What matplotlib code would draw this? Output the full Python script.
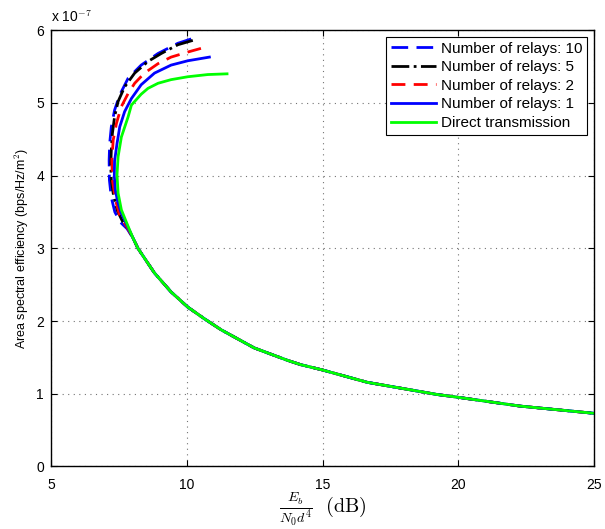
import numpy as np
import matplotlib.pyplot as plt

plt.rcParams['font.family'] = ['Liberation Sans', 'DejaVu Sans']
plt.rcParams['mathtext.fontset'] = 'cm'

# y values are in units of 1e-7 bps/Hz/m^2
# lower branch shared by all curves once they merge
tail_x = [8.02, 8.20, 8.81, 9.42, 10.04, 10.65, 11.26, 12.48, 13.70, 14.19, 15.0, 16.64, 19.2, 20.0, 22.26, 25.0]
tail_y = [3.14, 3.00, 2.66, 2.40, 2.19, 2.03, 1.88, 1.63, 1.46, 1.40, 1.326, 1.157, 0.99, 0.95, 0.83, 0.73]

# number of relays: 10
r10_x = [10.16, 9.67, 8.94, 8.32, 7.84, 7.53, 7.34, 7.22, 7.16, 7.14, 7.15, 7.22, 7.35, 7.55, 7.80]
r10_y = [5.88, 5.82, 5.68, 5.52, 5.34, 5.11, 4.90, 4.67, 4.44, 4.21, 3.94, 3.70, 3.50, 3.36, 3.27]
# number of relays: 5
r5_x = [10.22, 9.67, 9.06, 8.57, 8.08, 7.71, 7.47, 7.34, 7.26, 7.22, 7.20, 7.22, 7.30, 7.44, 7.62, 7.82]
r5_y = [5.86, 5.80, 5.68, 5.57, 5.41, 5.22, 5.02, 4.81, 4.58, 4.35, 4.15, 3.94, 3.73, 3.52, 3.38, 3.28]
# number of relays: 2
r2_x = [10.52, 10.04, 9.42, 8.94, 8.44, 8.08, 7.84, 7.59, 7.41, 7.29, 7.24, 7.26, 7.37, 7.52, 7.80]
r2_y = [5.75, 5.70, 5.63, 5.54, 5.41, 5.27, 5.13, 4.95, 4.72, 4.49, 4.21, 3.94, 3.67, 3.46, 3.29]
# number of relays: 1
r1_x = [10.83, 10.04, 9.42, 8.81, 8.32, 7.96, 7.71, 7.53, 7.43, 7.34, 7.33, 7.37, 7.45, 7.57, 7.82]
r1_y = [5.63, 5.58, 5.52, 5.41, 5.25, 5.06, 4.88, 4.67, 4.44, 4.20, 4.00, 3.80, 3.65, 3.50, 3.30]
# direct transmission
dt_x = [11.48, 10.77, 10.04, 9.42, 8.94, 8.57, 8.32, 7.96, 7.84, 7.59, 7.47, 7.43, 7.47, 7.59, 7.84]
dt_y = [5.40, 5.39, 5.36, 5.32, 5.27, 5.20, 5.12, 4.97, 4.81, 4.53, 4.26, 4.01, 3.76, 3.53, 3.30]

labels = ['Number of relays: 10', 'Number of relays: 5', 'Number of relays: 2',
          'Number of relays: 1', 'Direct transmission']

fig = plt.figure(figsize=(6.05, 5.29), dpi=100)
ax = fig.add_axes([0.0843, 0.1183, 0.8980, 0.8246])

lw = 2
ax.plot(r10_x + tail_x, r10_y + tail_y, color='#0000ff', lw=lw, dashes=(6, 3), label=labels[0])
ax.plot(r5_x + tail_x, r5_y + tail_y, color='k', lw=lw, linestyle='-.', label=labels[1])
ax.plot(r2_x + tail_x, r2_y + tail_y, color='#ff0000', lw=lw, dashes=(5, 3), label=labels[2])
ax.plot(r1_x + tail_x, r1_y + tail_y, color='#0000ff', lw=lw, label=labels[3])
ax.plot(dt_x + tail_x, dt_y + tail_y, color='#00ff00', lw=lw, label=labels[4])

ax.set_xlim(5, 25)
ax.set_ylim(0, 6)
ax.set_xticks([5, 10, 15, 20, 25])
ax.set_yticks([0, 1, 2, 3, 4, 5, 6])
ax.tick_params(direction='in', top=True, right=True, labelsize=10, length=4)
ax.tick_params(axis='x', pad=8)
ax.tick_params(axis='y', pad=5)
ax.grid(True, linestyle=(0, (1, 4)), color='0.45', lw=0.8)
for s in ax.spines.values():
    s.set_linewidth(1.0)

ax.text(0.0, 1.012, r'x 10$^{-7}$', transform=ax.transAxes, ha='left', va='bottom', fontsize=10)
ax.set_ylabel('Area spectral efficiency (bps/Hz/m$^2$)', fontsize=9)
ax.set_xlabel(r'$\frac{E_b}{N_0 d^4}\ \ \mathrm{(dB)}$', fontsize=14.5)
ax.xaxis.set_label_coords(0.5, -0.056)

leg = ax.legend(loc='upper right', fontsize=11, handlelength=2.95, borderaxespad=0.45,
                fancybox=False, framealpha=1, edgecolor='k', labelspacing=0.3,
                borderpad=0.3, handletextpad=0.35)
leg.get_frame().set_linewidth(0.8)

plt.savefig('out.png', dpi=100)
